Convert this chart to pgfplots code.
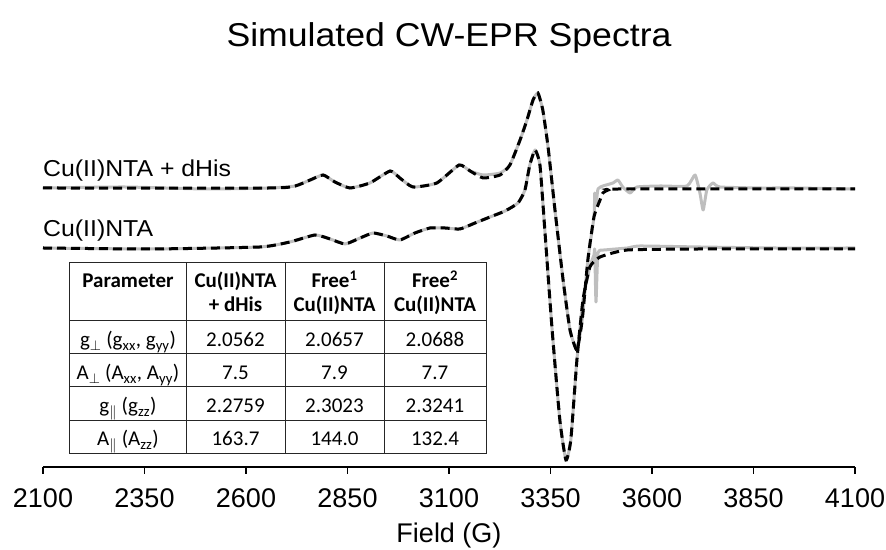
\documentclass[border=0pt]{standalone}
\usepackage{fontspec}
\setmainfont{Liberation Sans}
\newfontfamily\widefont[FakeStretch=1.08]{Liberation Sans}
\newfontfamily\calfont{Carlito}
\usepackage{pgfplots}
\pgfplotsset{compat=1.18}
\definecolor{expgray}{RGB}{190,190,190}
\begin{document}
\begin{tikzpicture}[x=1bp,y=1bp]
\path[use as bounding box] (-43,-83) rectangle (843,467);
\begin{axis}[at={(0,0)}, anchor=south west, scale only axis,
  width=812bp, height=407bp,
  xmin=2100, xmax=4100, ymin=0, ymax=407,
  axis x line=bottom, axis y line=none,
  x axis line style={-, line width=1.6bp, black},
  xtick={2100,2350,2600,2850,3100,3350,3600,3850,4100},
  xticklabels={2100,2350,2600,2850,3100,3350,3600,3850,4100},
  tick align=outside, major tick length=7bp,
  xtick style={line width=1.6bp, black},
  xticklabel style={font=\fontsize{27bp}{30bp}\selectfont, anchor=north, inner sep=0pt, yshift=-14bp},
  clip=false]
% experimental (gray)
\addplot[expgray, line width=3bp, line join=round, smooth, tension=0.3] coordinates {
(2100,279)(2300,280)(2500,278)(2659,279)(2721,281)(2758,287)(2790,292)(2819,285)(2856,279)
(2905,284)(2955,296)(2979,289)(3011,280)(3070,284)(3125,302)(3152,296)(3184,292)(3226,294)
(3250,302)(3275,327)(3292,347)(3307,367)(3319,374)(3331,357)(3344,320)(3361,257)(3381,187)
(3398,137)(3415,117)(3428,147)(3442,207)(3457,250)(3459,274)(3462,262)(3467,278)(3479,281)
(3504,284)(3516,287)(3528,280)(3546,274)(3563,280)(3620,281)(3686,281)(3706,292)(3718,274)
(3726,257)(3735,277)(3750,284)(3767,280)(3866,279)(3950,279)(4100,278)};
\addplot[expgray, line width=3bp, line join=round, smooth, tension=0.3] coordinates {
(2100,219)(2364,218)(2634,220)(2708,225)(2770,232)(2807,228)(2844,223)(2881,229)(2913,234)
(2947,231)(2979,227)(3016,234)(3053,239)(3090,239)(3127,238)(3164,244)(3201,250)(3238,256)
(3270,264)(3287,277)(3299,302)(3312,317)(3324,302)(3336,237)(3354,137)(3373,47)(3388,7)
(3400,27)(3415,107)(3430,167)(3447,200)(3457,212)(3459,217)(3462,165)(3467,214)(3484,217)
(3539,219)(3570,221)(3718,220)(3900,219)(4100,219)};
% simulated (black dashed)
\addplot[black, line width=3bp, dash pattern=on 9bp off 5bp, smooth, tension=0.3] coordinates {
(2100,279)(2659,279)(2721,281)(2758,287)(2790,292)(2819,285)(2856,279)(2905,284)(2955,296)
(2979,289)(3011,280)(3070,284)(3125,302)(3152,296)(3184,289)(3226,292)(3250,302)(3275,327)
(3292,347)(3307,367)(3319,374)(3331,357)(3344,320)(3361,257)(3381,187)(3398,137)(3415,117)
(3428,147)(3442,207)(3457,250)(3472,267)(3479,274)(3492,277)(3521,278)(4100,278)};
\addplot[black, line width=3bp, dash pattern=on 9bp off 5bp, smooth, tension=0.3] coordinates {
(2100,219)(2364,218)(2634,220)(2708,225)(2770,232)(2807,228)(2844,223)(2881,229)(2913,234)
(2947,231)(2979,227)(3016,234)(3053,239)(3090,239)(3127,238)(3164,244)(3201,250)(3238,256)
(3270,264)(3287,277)(3299,302)(3312,317)(3324,302)(3336,237)(3354,137)(3373,47)(3388,7)
(3400,27)(3415,107)(3430,167)(3447,200)(3472,210)(3539,217)(3718,218)(4100,218)};
\end{axis}
% title and labels
\node[anchor=base, inner sep=0pt, font=\widefont\fontsize{33bp}{36bp}\selectfont] at (406,420) {Simulated CW-EPR Spectra};
\node[anchor=base west, inner sep=0pt, font=\widefont\fontsize{23bp}{26bp}\selectfont] at (0,290) {Cu(II)NTA + dHis};
\node[anchor=base west, inner sep=0pt, font=\widefont\fontsize{23bp}{26bp}\selectfont] at (0,230) {Cu(II)NTA};
\node[anchor=base, inner sep=0pt, font=\fontsize{27bp}{30bp}\selectfont] at (406,-76) {Field (G)};
% table
\begin{scope}[line width=1bp, draw=black!85]
\draw (27,13) rectangle (443,204);
\foreach \xx in {143,242,341} \draw (\xx,13) -- (\xx,204);
\foreach \yy in {146,113,80,46} \draw (27,\yy) -- (443,\yy);
\end{scope}
\begin{scope}[every node/.style={anchor=base, inner sep=0pt, font=\calfont\fontsize{21bp}{24bp}\selectfont}]
\node at (85,179) {\textbf{Parameter}};
\node at (192.5,179) {\textbf{Cu(II)NTA}};
\node at (192.5,155) {\textbf{+ dHis}};
\node at (291.5,179) {\textbf{Free\textsuperscript{1}}};
\node at (291.5,155) {\textbf{Cu(II)NTA}};
\node at (392,179) {\textbf{Free\textsuperscript{2}}};
\node at (392,155) {\textbf{Cu(II)NTA}};
\node at (85,120) {g\textsubscript{$\perp$} (g\textsubscript{xx}, g\textsubscript{yy})};
\node at (192.5,120) {2.0562};
\node at (291.5,120) {2.0657};
\node at (392,120) {2.0688};
\node at (85,87) {A\textsubscript{$\perp$} (A\textsubscript{xx}, A\textsubscript{yy})};
\node at (192.5,87) {7.5};
\node at (291.5,87) {7.9};
\node at (392,87) {7.7};
\node at (85,54) {g\textsubscript{$\|$} (g\textsubscript{zz})};
\node at (192.5,54) {2.2759};
\node at (291.5,54) {2.3023};
\node at (392,54) {2.3241};
\node at (85,21) {A\textsubscript{$\|$} (A\textsubscript{zz})};
\node at (192.5,21) {163.7};
\node at (291.5,21) {144.0};
\node at (392,21) {132.4};
\end{scope}
\end{tikzpicture}
\end{document}
